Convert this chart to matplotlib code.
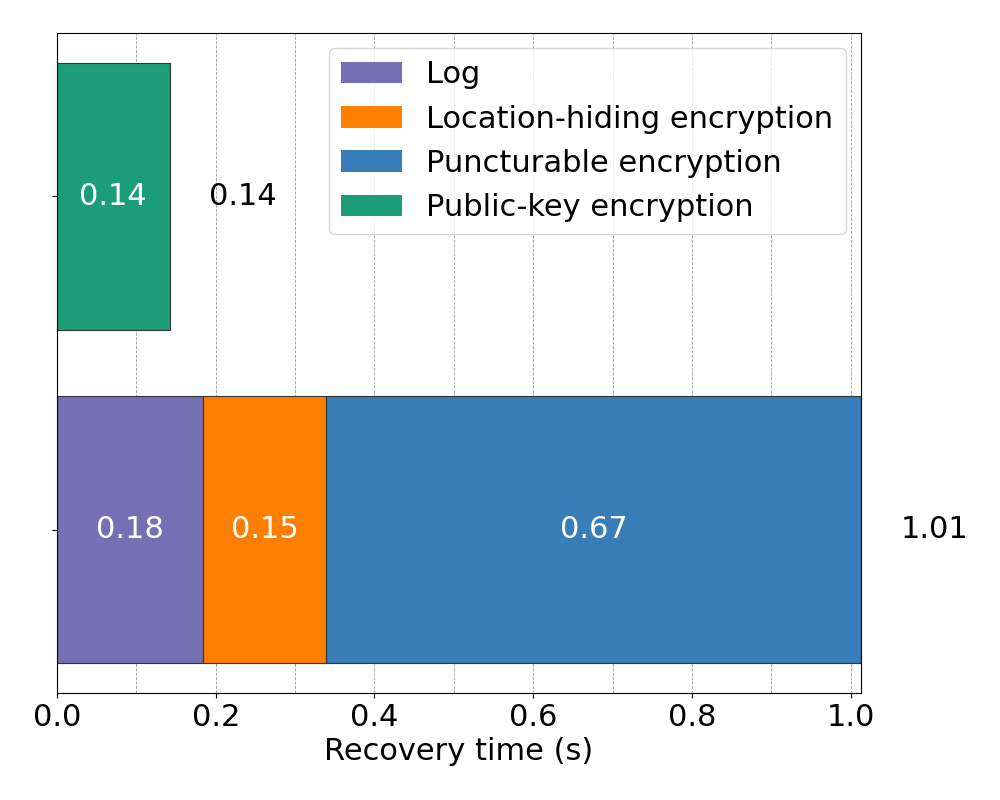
import matplotlib.pyplot as plt
from matplotlib.patches import Patch
from matplotlib.ticker import MultipleLocator

# recovery time breakdown (seconds)
rows = ['ours', 'baseline']
components = ['Log', 'Location-hiding encryption', 'Puncturable encryption', 'Public-key encryption']
colors = ['#7570b3', '#ff7f00', '#377eb8', '#1b9e77']
ours = [0.184, 0.155, 0.674]
baseline = [0.142]
ours_labels = ['0.18', '0.15', '0.67']
baseline_labels = ['0.14']
ours_total = '1.01'
baseline_total = '0.14'

fig = plt.figure(figsize=(10, 8), dpi=100)
ax = fig.add_axes([0.057, 0.1335, 0.804, 0.8255])

fs = 22

# bottom row: stacked components
left = 0.
for value, label, color in zip(ours, ours_labels, colors[:3]):
    ax.barh(0, value, left=left, height=0.8, color=color,
            edgecolor='#333333', linewidth=0.8)
    ax.text(left + value / 2., 0, label, ha='center', va='center',
            color='white', fontsize=fs)
    left += value
ax.text(left + 0.05, 0, ours_total, ha='left', va='center', fontsize=fs)
ours_sum = left

# top row: public-key encryption only
left = 0.
for value, label in zip(baseline, baseline_labels):
    ax.barh(1, value, left=left, height=0.8, color=colors[3],
            edgecolor='#333333', linewidth=0.8)
    ax.text(left + value / 2., 1, label, ha='center', va='center',
            color='white', fontsize=fs)
    left += value
ax.text(left + 0.05, 1, baseline_total, ha='left', va='center', fontsize=fs)

ax.set_xlim(0, ours_sum)
ax.set_yticks([0, 1])
ax.set_yticklabels([])
ax.xaxis.set_major_locator(MultipleLocator(0.2))
ax.xaxis.set_minor_locator(MultipleLocator(0.1))
ax.tick_params(axis='x', which='minor', length=0)
ax.tick_params(axis='x', labelsize=fs)
ax.set_axisbelow(True)
ax.grid(axis='x', which='both', linestyle='--', color='gray', linewidth=0.6, alpha=0.8)
ax.set_xlabel('Recovery time (s)', fontsize=fs)

handles = [Patch(facecolor=c, label=n) for c, n in zip(colors, components)]
ax.legend(handles=handles, loc='upper right', fontsize=fs)

fig.savefig('out.png', dpi=100)
